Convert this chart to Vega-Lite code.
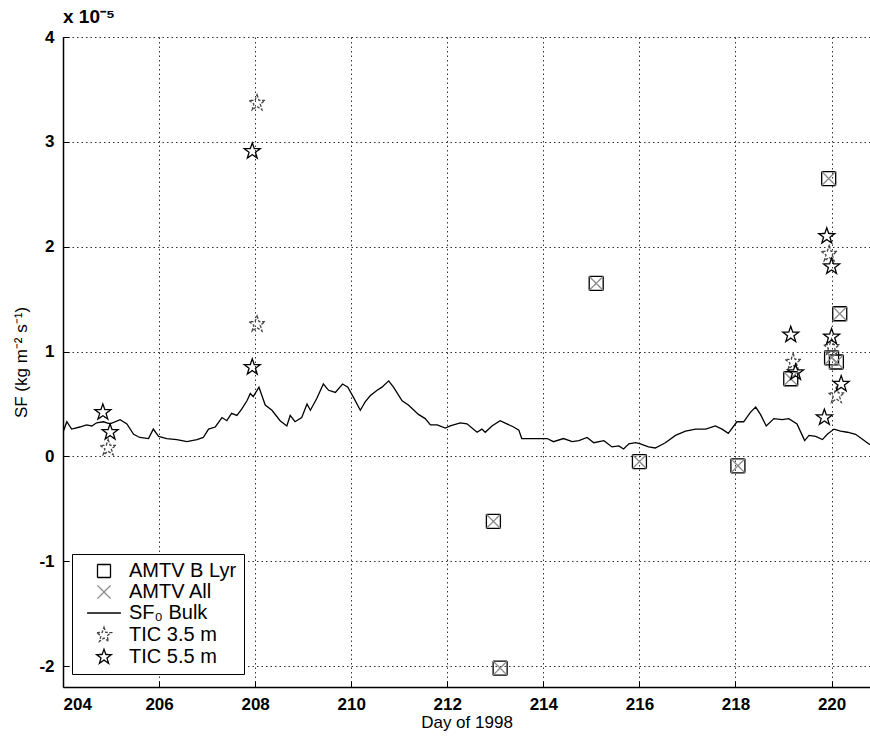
{
  "$schema": "https://vega.github.io/schema/vega-lite/v6.json",
  "width": 807,
  "height": 650,
  "autosize": "none",
  "padding": {"left": 63, "top": 37, "right": 0, "bottom": 53},
  "background": "white",
  "title": {"text": "x 10⁻⁵", "anchor": "start", "frame": "group", "fontSize": 19, "fontWeight": "bold", "font": "Liberation Sans", "offset": 1, "color": "black"},
  "config": {
    "view": {"stroke": null},
    "font": "Liberation Sans",
    "axis": {"gridColor": "black", "gridDash": [1.5, 3], "gridOpacity": 0.8, "gridWidth": 1, "domainColor": "black", "domainWidth": 1.5, "tickColor": "black", "tickSize": -6, "labelPadding": 15, "labelFontSize": 17, "labelFontWeight": "bold", "labelColor": "black", "titleFontSize": 17, "titleFontWeight": "normal", "titleColor": "#000000"}
  },
  "datasets": {
    "points": [
      {"day": 215.1, "sf": 1.65, "series": "AMTV B Lyr"},
      {"day": 212.96, "sf": -0.62, "series": "AMTV B Lyr"},
      {"day": 213.1, "sf": -2.02, "series": "AMTV B Lyr"},
      {"day": 216.0, "sf": -0.05, "series": "AMTV B Lyr"},
      {"day": 218.05, "sf": -0.09, "series": "AMTV B Lyr"},
      {"day": 219.94, "sf": 2.65, "series": "AMTV B Lyr"},
      {"day": 220.17, "sf": 1.36, "series": "AMTV B Lyr"},
      {"day": 219.15, "sf": 0.74, "series": "AMTV B Lyr"},
      {"day": 220.0, "sf": 0.94, "series": "AMTV B Lyr"},
      {"day": 220.1, "sf": 0.9, "series": "AMTV B Lyr"},
      {"day": 215.1, "sf": 1.65, "series": "AMTV All"},
      {"day": 212.96, "sf": -0.62, "series": "AMTV All"},
      {"day": 213.1, "sf": -2.02, "series": "AMTV All"},
      {"day": 216.0, "sf": -0.05, "series": "AMTV All"},
      {"day": 218.05, "sf": -0.09, "series": "AMTV All"},
      {"day": 219.94, "sf": 2.65, "series": "AMTV All"},
      {"day": 220.17, "sf": 1.36, "series": "AMTV All"},
      {"day": 219.15, "sf": 0.74, "series": "AMTV All"},
      {"day": 220.0, "sf": 0.94, "series": "AMTV All"},
      {"day": 220.1, "sf": 0.9, "series": "AMTV All"},
      {"day": 208.04, "sf": 3.37, "series": "TIC 3.5 m"},
      {"day": 208.04, "sf": 1.26, "series": "TIC 3.5 m"},
      {"day": 204.94, "sf": 0.08, "series": "TIC 3.5 m"},
      {"day": 219.95, "sf": 1.93, "series": "TIC 3.5 m"},
      {"day": 219.2, "sf": 0.9, "series": "TIC 3.5 m"},
      {"day": 220.0, "sf": 1.04, "series": "TIC 3.5 m"},
      {"day": 220.1, "sf": 0.58, "series": "TIC 3.5 m"},
      {"day": 207.94, "sf": 2.91, "series": "TIC 5.5 m"},
      {"day": 207.94, "sf": 0.85, "series": "TIC 5.5 m"},
      {"day": 204.83, "sf": 0.42, "series": "TIC 5.5 m"},
      {"day": 204.98, "sf": 0.23, "series": "TIC 5.5 m"},
      {"day": 219.9, "sf": 2.1, "series": "TIC 5.5 m"},
      {"day": 220.0, "sf": 1.81, "series": "TIC 5.5 m"},
      {"day": 219.15, "sf": 1.16, "series": "TIC 5.5 m"},
      {"day": 219.25, "sf": 0.8, "series": "TIC 5.5 m"},
      {"day": 220.0, "sf": 1.14, "series": "TIC 5.5 m"},
      {"day": 220.2, "sf": 0.69, "series": "TIC 5.5 m"},
      {"day": 219.85, "sf": 0.37, "series": "TIC 5.5 m"}
    ],
    "bulk": [
      {"day": 204.0, "sf": 0.23}, {"day": 204.08, "sf": 0.33}, {"day": 204.18, "sf": 0.26}, {"day": 204.35, "sf": 0.28},
      {"day": 204.49, "sf": 0.30}, {"day": 204.6, "sf": 0.29}, {"day": 204.70, "sf": 0.32}, {"day": 204.84, "sf": 0.33},
      {"day": 204.98, "sf": 0.31}, {"day": 205.19, "sf": 0.35}, {"day": 205.33, "sf": 0.31}, {"day": 205.47, "sf": 0.21},
      {"day": 205.60, "sf": 0.18}, {"day": 205.78, "sf": 0.17}, {"day": 205.88, "sf": 0.26}, {"day": 205.99, "sf": 0.19},
      {"day": 206.16, "sf": 0.17}, {"day": 206.37, "sf": 0.16}, {"day": 206.58, "sf": 0.14}, {"day": 206.79, "sf": 0.16},
      {"day": 206.92, "sf": 0.18}, {"day": 207.03, "sf": 0.26}, {"day": 207.17, "sf": 0.28}, {"day": 207.31, "sf": 0.37},
      {"day": 207.41, "sf": 0.34}, {"day": 207.51, "sf": 0.41}, {"day": 207.62, "sf": 0.39}, {"day": 207.72, "sf": 0.45},
      {"day": 207.83, "sf": 0.53}, {"day": 207.90, "sf": 0.60}, {"day": 207.96, "sf": 0.57}, {"day": 208.08, "sf": 0.66},
      {"day": 208.21, "sf": 0.49}, {"day": 208.35, "sf": 0.44}, {"day": 208.52, "sf": 0.34}, {"day": 208.66, "sf": 0.29},
      {"day": 208.73, "sf": 0.39}, {"day": 208.83, "sf": 0.33}, {"day": 208.97, "sf": 0.37}, {"day": 209.08, "sf": 0.50},
      {"day": 209.15, "sf": 0.44}, {"day": 209.28, "sf": 0.55}, {"day": 209.42, "sf": 0.69}, {"day": 209.53, "sf": 0.63},
      {"day": 209.67, "sf": 0.61}, {"day": 209.82, "sf": 0.69}, {"day": 209.93, "sf": 0.66}, {"day": 210.05, "sf": 0.56},
      {"day": 210.19, "sf": 0.44}, {"day": 210.29, "sf": 0.52}, {"day": 210.40, "sf": 0.58}, {"day": 210.54, "sf": 0.63},
      {"day": 210.64, "sf": 0.66}, {"day": 210.78, "sf": 0.72}, {"day": 210.88, "sf": 0.66}, {"day": 211.06, "sf": 0.53},
      {"day": 211.19, "sf": 0.49}, {"day": 211.40, "sf": 0.40}, {"day": 211.54, "sf": 0.36}, {"day": 211.65, "sf": 0.30},
      {"day": 211.79, "sf": 0.30}, {"day": 211.96, "sf": 0.27}, {"day": 212.06, "sf": 0.29}, {"day": 212.27, "sf": 0.32},
      {"day": 212.41, "sf": 0.31}, {"day": 212.62, "sf": 0.23}, {"day": 212.72, "sf": 0.26}, {"day": 212.79, "sf": 0.23},
      {"day": 212.93, "sf": 0.29}, {"day": 213.10, "sf": 0.34}, {"day": 213.24, "sf": 0.31}, {"day": 213.38, "sf": 0.28},
      {"day": 213.49, "sf": 0.25}, {"day": 213.55, "sf": 0.17}, {"day": 213.73, "sf": 0.17}, {"day": 213.94, "sf": 0.17},
      {"day": 214.08, "sf": 0.17}, {"day": 214.21, "sf": 0.14}, {"day": 214.42, "sf": 0.17}, {"day": 214.60, "sf": 0.14},
      {"day": 214.74, "sf": 0.15}, {"day": 214.91, "sf": 0.18}, {"day": 215.05, "sf": 0.13}, {"day": 215.26, "sf": 0.15},
      {"day": 215.43, "sf": 0.09}, {"day": 215.57, "sf": 0.10}, {"day": 215.67, "sf": 0.07}, {"day": 215.78, "sf": 0.12},
      {"day": 215.92, "sf": 0.13}, {"day": 216.02, "sf": 0.12}, {"day": 216.19, "sf": 0.09}, {"day": 216.33, "sf": 0.08},
      {"day": 216.54, "sf": 0.13}, {"day": 216.75, "sf": 0.20}, {"day": 216.96, "sf": 0.24}, {"day": 217.17, "sf": 0.26},
      {"day": 217.38, "sf": 0.26}, {"day": 217.58, "sf": 0.29}, {"day": 217.72, "sf": 0.26}, {"day": 217.85, "sf": 0.22},
      {"day": 218.03, "sf": 0.33}, {"day": 218.17, "sf": 0.33}, {"day": 218.31, "sf": 0.42}, {"day": 218.42, "sf": 0.47},
      {"day": 218.52, "sf": 0.40}, {"day": 218.64, "sf": 0.29}, {"day": 218.80, "sf": 0.36}, {"day": 218.97, "sf": 0.35},
      {"day": 219.11, "sf": 0.36}, {"day": 219.28, "sf": 0.31}, {"day": 219.39, "sf": 0.20}, {"day": 219.44, "sf": 0.15},
      {"day": 219.53, "sf": 0.20}, {"day": 219.67, "sf": 0.19}, {"day": 219.81, "sf": 0.16}, {"day": 219.91, "sf": 0.21},
      {"day": 220.05, "sf": 0.26}, {"day": 220.19, "sf": 0.24}, {"day": 220.33, "sf": 0.23}, {"day": 220.5, "sf": 0.21},
      {"day": 220.65, "sf": 0.16}, {"day": 220.8, "sf": 0.11}
    ]
  },
  "layer": [
    {
      "data": {"name": "bulk"},
      "mark": {"type": "line", "color": "black", "strokeWidth": 1.3, "clip": true},
      "encoding": {
        "x": {"field": "day", "type": "quantitative", "scale": {"domain": [204, 220.8], "nice": false, "zero": false},
          "axis": {"title": "Day of 1998", "values": [204, 206, 208, 210, 212, 214, 216, 218, 220], "labelExpr": "'' + datum.value", "grid": true, "titlePadding": 2}},
        "y": {"field": "sf", "type": "quantitative", "scale": {"domain": [-2.2, 4], "nice": false, "zero": false},
          "axis": {"title": "SF (kg m⁻² s⁻¹)", "values": [-2, -1, 0, 1, 2, 3, 4], "labelExpr": "'' + datum.value", "grid": true, "titlePadding": 8}}
      }
    },
    {
      "data": {"name": "points"},
      "mark": {"type": "point", "filled": false, "strokeWidth": 1.3, "size": 196, "opacity": 1},
      "encoding": {
        "x": {"field": "day", "type": "quantitative"},
        "y": {"field": "sf", "type": "quantitative"},
        "shape": {"field": "series", "type": "nominal",
          "scale": {"domain": ["AMTV B Lyr", "AMTV All", "SF₀ Bulk", "TIC 3.5 m", "TIC 5.5 m"],
            "range": ["M-1,-1H1V1H-1Z", "M-1,-1L1,1M-1,1L1,-1", "M-2.6,0L2.6,0",
              "M0,-1.2L0.282,-0.388L1.141,-0.371L0.456,0.148L0.705,0.971L0,0.48L-0.705,0.971L-0.456,0.148L-1.141,-0.371L-0.282,-0.388Z",
              "M0,-1.2L0.282,-0.388L1.141,-0.371L0.456,0.148L0.705,0.971L0,0.48L-0.705,0.971L-0.456,0.148L-1.141,-0.371L-0.282,-0.388Z"]},
          "legend": {"title": null, "orient": "none", "legendX": 9, "legendY": 517, "strokeColor": "black", "fillColor": "white", "padding": 7,
            "symbolOffset": 15, "symbolSize": 169, "symbolStrokeWidth": 1.3, "labelFontSize": 20, "labelFont": "Liberation Sans", "labelColor": "black", "labelOffset": 15, "rowPadding": 1, "labelLimit": 200}},
        "stroke": {"field": "series", "type": "nominal",
          "scale": {"domain": ["AMTV B Lyr", "AMTV All", "SF₀ Bulk", "TIC 3.5 m", "TIC 5.5 m"],
            "range": ["black", "#888888", "black", "#444444", "black"]},
          "legend": {"title": null}},
        "strokeDash": {"field": "series", "type": "nominal",
          "scale": {"domain": ["AMTV B Lyr", "AMTV All", "SF₀ Bulk", "TIC 3.5 m", "TIC 5.5 m"],
            "range": [[1, 0], [1, 0], [1, 0], [3, 1.5], [1, 0]]},
          "legend": {"title": null}}
      }
    }
  ]
}
